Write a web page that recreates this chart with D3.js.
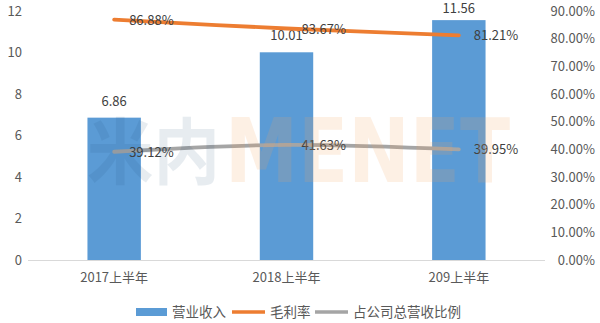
<!DOCTYPE html>
<html>
<head>
<meta charset="utf-8">
<script src="https://cdn.jsdelivr.net/npm/d3@7"></script>
<style>
  body { margin: 0; background: #fff; }
  text { font-family: "Noto Sans CJK SC", "Noto Sans", sans-serif; fill: #595959; }
</style>
</head>
<body>
<svg id="mySvg"></svg>
<script>
// chart data
var categories = ["2017上半年", "2018上半年", "209上半年"];
var revenue = [6.86, 10.01, 11.56];
var grossMargin = [86.88, 83.67, 81.21];
var shareOfTotal = [39.12, 41.63, 39.95];
var leftTicks = [0, 2, 4, 6, 8, 10, 12];
var rightTicks = [0, 10, 20, 30, 40, 50, 60, 70, 80, 90];
var seriesNames = ["营业收入", "毛利率", "占公司总营收比例"];

var svgWidth = 600;
var svgHeight = 323;
var plotLeft = 28, plotRight = 545, plotTop = 11, plotBottom = 260;

var svg = d3.select("#mySvg")
  .attr("width", svgWidth)
  .attr("height", svgHeight);

var x = d3.scaleBand().domain(categories).range([plotLeft, plotRight]).paddingInner(0.69).paddingOuter(0.345);
var yL = d3.scaleLinear().domain([0, 12]).range([plotBottom, plotTop]);
var yR = d3.scaleLinear().domain([0, 90]).range([plotBottom, plotTop]);

// left axis
var axL = svg.append("g").attr("transform", "translate(" + (plotLeft - 6) + ",0)")
  .call(d3.axisLeft(yL).tickValues(leftTicks).tickSize(0).tickPadding(0));
axL.select(".domain").remove();
axL.selectAll("text").style("font-size", "13px").attr("fill", "#595959");

// right axis
var axR = svg.append("g").attr("transform", "translate(595,0)")
  .call(d3.axisLeft(yR).tickValues(rightTicks).tickSize(0).tickPadding(0)
    .tickFormat(function(d) { return d.toFixed(2) + "%"; }));
axR.select(".domain").remove();
axR.selectAll("text").style("font-size", "13px").attr("fill", "#595959");

// bars
svg.selectAll("rect.bar")
  .data(revenue)
  .enter()
  .append("rect")
  .attr("class", "bar")
  .attr("x", function(d, i) { return x(categories[i]); })
  .attr("y", function(d) { return yL(d); })
  .attr("width", x.bandwidth())
  .attr("height", function(d) { return yL(0) - yL(d); })
  .attr("fill", "#5b9bd5");

// baseline
svg.append("line")
  .attr("x1", plotLeft).attr("x2", plotRight)
  .attr("y1", yL(0) + 0.5).attr("y2", yL(0) + 0.5)
  .attr("stroke", "#d9d9d9").attr("stroke-width", 1);

// x labels
svg.selectAll("text.xlab")
  .data(categories)
  .enter()
  .append("text")
  .attr("class", "xlab")
  .attr("x", function(d) { return x(d) + x.bandwidth() / 2; })
  .attr("y", 282)
  .attr("text-anchor", "middle")
  .style("font-size", "13px")
  .text(function(d) { return d; });

// bar labels (kept inside the top edge)
svg.selectAll("text.blab")
  .data(revenue)
  .enter()
  .append("text")
  .attr("class", "blab")
  .attr("x", function(d, i) { return x(categories[i]) + x.bandwidth() / 2; })
  .attr("y", function(d) { return Math.max(yL(d) - 12, 13); })
  .attr("text-anchor", "middle")
  .style("font-size", "13px")
  .style("fill", "#404040")
  .text(function(d) { return d.toFixed(2); });

var line = d3.line()
  .x(function(d, i) { return x(categories[i]) + x.bandwidth() / 2; })
  .y(function(d) { return yR(d); })
  .curve(d3.curveCatmullRom);

function drawLine(data, color) {
  svg.append("path")
    .datum(data)
    .attr("d", line)
    .attr("fill", "none")
    .attr("stroke", color)
    .attr("stroke-width", 3.8)
    .attr("stroke-linecap", "round");
  svg.selectAll(null)
    .data(data)
    .enter()
    .append("text")
    .attr("x", function(d, i) { return x(categories[i]) + x.bandwidth() / 2 + 15; })
    .attr("y", function(d) { return yR(d) + 5; })
    .style("font-size", "13px")
    .style("fill", "#404040")
    .text(function(d) { return d.toFixed(2) + "%"; });
}
drawLine(grossMargin, "#ed7d31");
drawLine(shareOfTotal, "#a5a5a5");

// watermark, drawn over the plot like the source image
var wm = svg.append("g").style("font-weight", "bold").attr("pointer-events", "none");
wm.append("text").attr("x", 87).attr("y", 178)
  .attr("textLength", 133).attr("lengthAdjust", "spacingAndGlyphs")
  .style("font-size", "72px").style("fill", "#1f4e79").attr("opacity", 0.1)
  .text("米内");
wm.append("text").attr("x", 225).attr("y", 182)
  .attr("textLength", 285).attr("lengthAdjust", "spacingAndGlyphs")
  .style("font-family", "DejaVu Sans").style("font-size", "89px")
  .style("fill", "#f4a460").attr("opacity", 0.16)
  .text("MENET");

// legend
var lg = svg.append("g").attr("transform", "translate(0,312)");
lg.append("rect").attr("x", 136).attr("y", -4).attr("width", 31).attr("height", 8).attr("fill", "#5b9bd5");
lg.append("text").attr("x", 172).attr("y", 5).style("font-size", "13.5px").text(seriesNames[0]);
lg.append("line").attr("x1", 232).attr("x2", 265).attr("y1", 0).attr("y2", 0)
  .attr("stroke", "#ed7d31").attr("stroke-width", 3.5);
lg.append("text").attr("x", 270).attr("y", 5).style("font-size", "13.5px").text(seriesNames[1]);
lg.append("line").attr("x1", 315).attr("x2", 348).attr("y1", 0).attr("y2", 0)
  .attr("stroke", "#a5a5a5").attr("stroke-width", 3.5);
lg.append("text").attr("x", 353).attr("y", 5).style("font-size", "13.5px").text(seriesNames[2]);
</script>
</body>
</html>
